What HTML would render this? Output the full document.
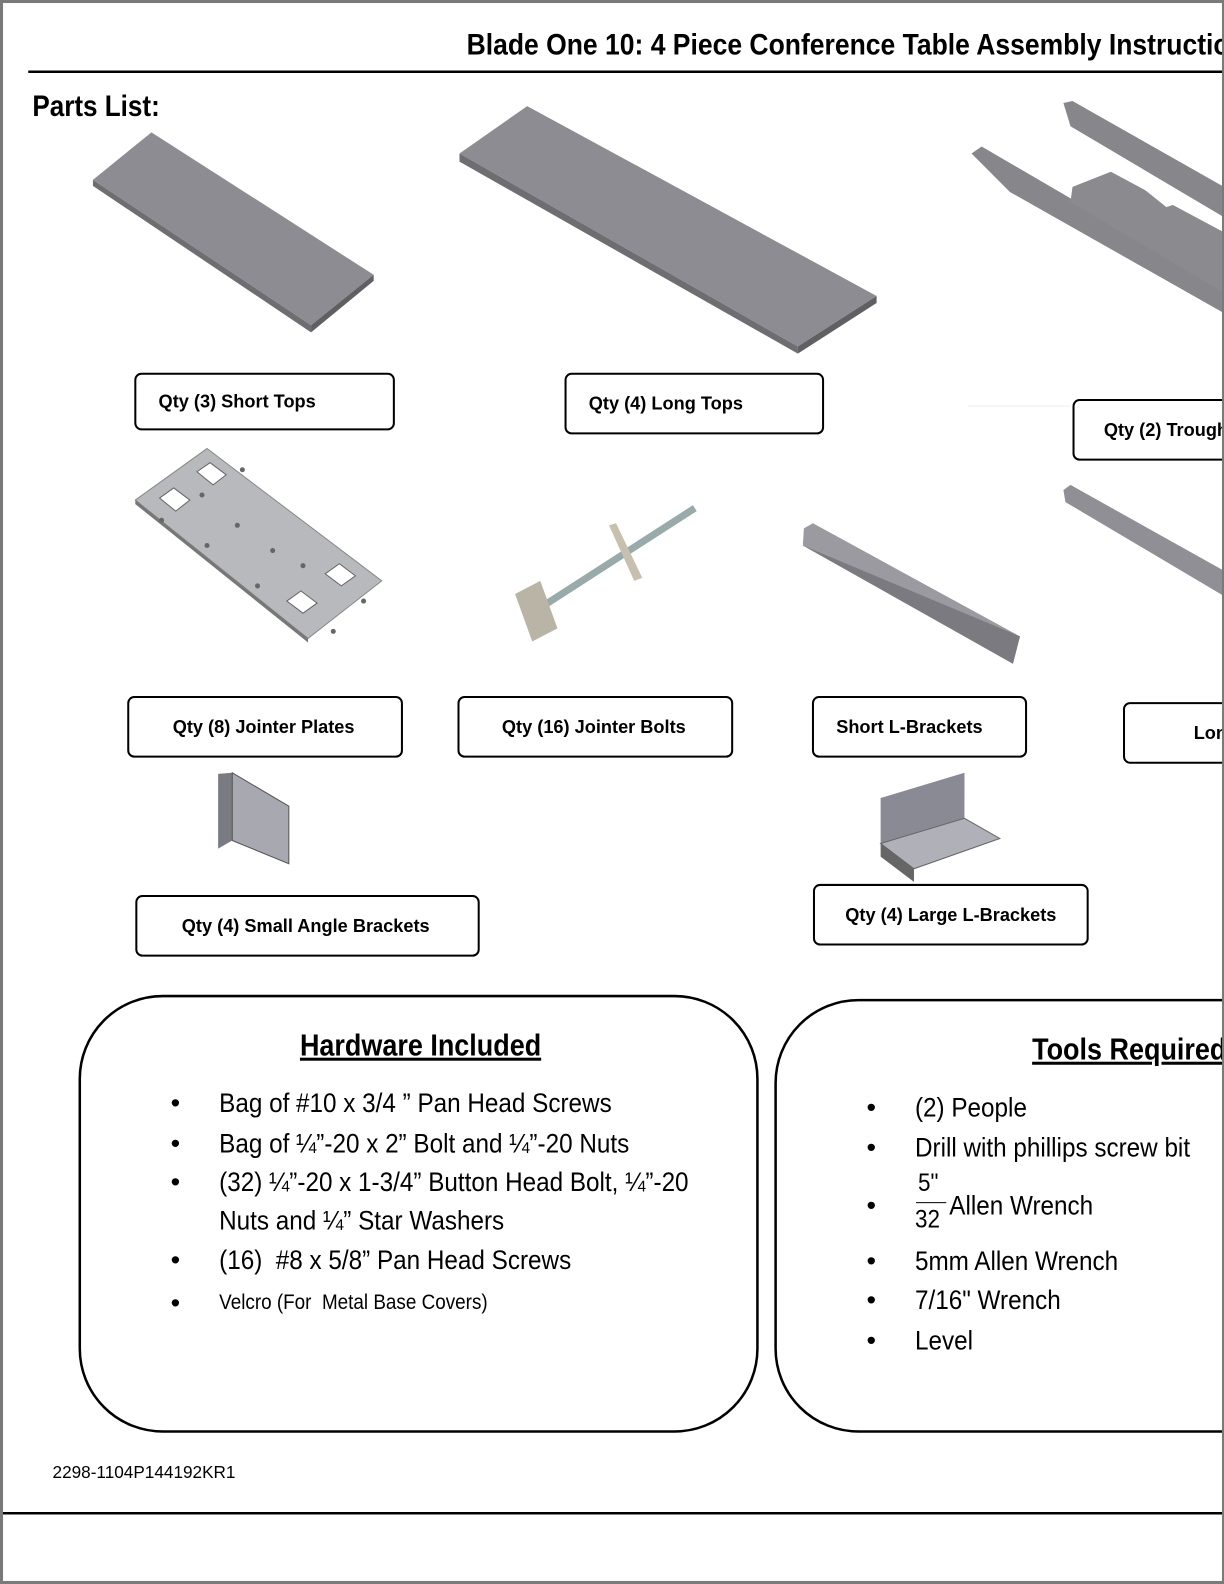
<!DOCTYPE html>
<html><head><meta charset="utf-8"><style>
html,body{margin:0;padding:0;background:#7a7a7a;}
#wrap{position:relative;width:1224px;height:1584px;overflow:hidden;background:#7a7a7a;}
#pg{position:absolute;left:0;top:0;width:1212px;height:1568px;transform:scale(1.0099,1.0102);transform-origin:0 0;}
#page{position:absolute;left:3px;top:3px;width:1207px;height:1562px;background:#fff;overflow:hidden;}
.t{position:absolute;white-space:nowrap;font-family:"Liberation Sans",sans-serif;}
.box{position:absolute;border:2px solid #000;border-radius:7px;box-sizing:border-box;font-family:"Liberation Sans",sans-serif;font-weight:bold;font-size:18px;white-space:nowrap;}
.box span{position:absolute;top:50%;transform:translateY(-50%);}
.n{transform-origin:0 0;transform:scaleX(0.89);}
</style></head><body><div id="wrap"><div id="pg"><div id="page">
<svg width="1207" height="1562" style="position:absolute;left:0;top:0" viewBox="3 3 1207 1562">
<line x1="28" y1="71" x2="1212" y2="71" stroke="#000" stroke-width="2.5"/>
<line x1="0" y1="1498" x2="1212" y2="1498" stroke="#000" stroke-width="2.5"/>
<polygon points="92,178 150,131 370,272 308,322" fill="#8c8c92"/>
<polygon points="92,178 308,322 308,329 92,184" fill="#6d6d72"/>
<polygon points="308,322 370,272 370,278 308,329" fill="#5f5f64"/>
<polygon points="455,152 522,105 868,293 790,343" fill="#8c8c92"/>
<polygon points="455,152 790,343 790,350 455,160" fill="#6d6d72"/>
<polygon points="790,343 868,293 868,300 790,350" fill="#5f5f64"/>
<polygon points="962,152 972,145 1212,285 1212,310 1000,190" fill="#86868b"/>
<polygon points="1053,102 1062,100 1212,185 1212,215 1060,125" fill="#86868b"/>
<polygon points="1062,185 1100,170 1212,230 1212,290 1060,200" fill="#8a8a8f"/>
<polygon points="1130,185 1150,180 1170,200 1155,205" fill="#fff"/>
<line x1="958" y1="402" x2="1060" y2="402" stroke="#eee"/>
<polygon points="134,495 205,444 378,575 305,632" fill="#b7b9bc" stroke="#888"/>
<polygon points="134,495 305,632 305,636 134,499" fill="#777"/>
<g fill="#fff" stroke="#666"><polygon points="158,493 172,483 188,495 174,506"/><polygon points="195,467 208,458 224,470 211,480"/><polygon points="322,568 336,558 352,570 338,580"/><polygon points="284,595 298,585 314,597 300,607"/></g>
<g fill="#666"><circle cx="160" cy="515" r="2.5"/><circle cx="200" cy="490" r="2.5"/><circle cx="235" cy="520" r="2.5"/><circle cx="270" cy="545" r="2.5"/><circle cx="240" cy="465" r="2.5"/><circle cx="300" cy="560" r="2.5"/><circle cx="255" cy="580" r="2.5"/><circle cx="330" cy="625" r="2.5"/><circle cx="360" cy="595" r="2.5"/><circle cx="205" cy="540" r="2.5"/></g>
<line x1="522" y1="610" x2="688" y2="503" stroke="#9aa" stroke-width="7"/>
<polygon points="603,520 610,518 636,572 628,575" fill="#c8c0ae"/>
<polygon points="510,588 535,575 552,622 527,635" fill="#b9b4a5"/>
<polygon points="796,523 805,518 1010,630 1003,657 795,540" fill="#9a9aa0"/>
<polygon points="795,540 1003,657 1010,630" fill="#7a7a80"/>
<polygon points="1053,485 1060,480 1212,565 1212,590 1055,497" fill="#8f8f95"/>
<polygon points="216,766 230,765 230,832 216,840" fill="#7a7a82"/>
<polygon points="230,765 286,798 286,855 230,832" fill="#a8a8b0" stroke="#555"/>
<polygon points="872,790 955,765 955,810 872,835" fill="#8a8a94"/>
<polygon points="872,835 955,810 990,830 905,860" fill="#b0b0b8" stroke="#666"/>
<polygon points="872,835 905,860 905,873 872,848" fill="#666"/>
<rect x="79" y="986" width="671" height="431" rx="82" fill="none" stroke="#000" stroke-width="2.5"/>
<rect x="768" y="990" width="600" height="427" rx="82" fill="none" stroke="#000" stroke-width="2.5"/>
</svg>
<div class="t" style="left:459px;top:26px;font-size:29px;font-weight:bold;transform-origin:0 0;transform:scaleX(0.905)">Blade One 10: 4 Piece Conference Table Assembly Instructions</div>
<div class="t n" style="left:29px;top:87px;font-size:29px;font-weight:bold;">Parts List:</div>
<div class="box" style="left:130px;top:366px;width:258px;height:57px"><span style="left:22px">Qty (3) Short Tops</span></div>
<div class="box" style="left:556px;top:366px;width:257px;height:61px"><span style="left:22px">Qty (4) Long Tops</span></div>
<div class="box" style="left:1059px;top:392px;width:200px;height:61px"><span style="left:29px">Qty (2) Troughs</span></div>
<div class="box" style="left:123px;top:686px;width:273px;height:61px"><span style="left:43px">Qty (8) Jointer Plates</span></div>
<div class="box" style="left:450px;top:686px;width:273px;height:61px"><span style="left:42px">Qty (16) Jointer Bolts</span></div>
<div class="box" style="left:801px;top:686px;width:213px;height:61px"><span style="left:22px">Short L-Brackets</span></div>
<div class="box" style="left:1109px;top:692px;width:200px;height:61px"><span style="left:68px">Long L-Brackets</span></div>
<div class="box" style="left:131px;top:883px;width:341px;height:61px"><span style="left:44px">Qty (4) Small Angle Brackets</span></div>
<div class="box" style="left:802px;top:872px;width:273px;height:61px"><span style="left:30px">Qty (4) Large L-Brackets</span></div>
<div class="t n" style="left:294px;top:1016px;font-size:30px;font-weight:bold;text-decoration:underline;">Hardware Included</div>
<div class="t n" style="left:1019px;top:1020px;font-size:30px;font-weight:bold;text-decoration:underline;">Tools Required</div>
<div style="position:absolute;left:0;top:0;font-family:'Liberation Sans',sans-serif;font-size:27px;">
<div class="t" style="left:166px;top:1074px">•</div><div class="t n" style="left:214px;top:1074px">Bag of #10 x 3/4 ” Pan Head Screws</div>
<div class="t" style="left:166px;top:1114px">•</div><div class="t n" style="left:214px;top:1114px">Bag of ¼”-20 x 2” Bolt and ¼”-20 Nuts</div>
<div class="t" style="left:166px;top:1152px">•</div><div class="t n" style="left:214px;top:1152px">(32) ¼”-20 x 1-3/4” Button Head Bolt, ¼”-20</div>
<div class="t n" style="left:214px;top:1190px">Nuts and ¼” Star Washers</div>
<div class="t" style="left:166px;top:1229px">•</div><div class="t n" style="left:214px;top:1229px">(16)&nbsp; #8 x 5/8” Pan Head Screws</div>
<div class="t" style="left:166px;top:1272px">•</div><div class="t n" style="left:214px;top:1275px;font-size:21px">Velcro (For&nbsp; Metal Base Covers)</div>
<div class="t" style="left:855px;top:1078px">•</div><div class="t n" style="left:903px;top:1078px">(2) People</div>
<div class="t" style="left:855px;top:1118px">•</div><div class="t n" style="left:903px;top:1118px">Drill with phillips screw bit</div>
<div class="t" style="left:855px;top:1175px">•</div>
<div class="t n" style="left:906px;top:1154px;font-size:25px">5"</div>
<div style="position:absolute;left:904px;top:1187px;width:30px;border-top:1.5px solid #000"></div>
<div class="t n" style="left:903px;top:1190px;font-size:25px">32</div>
<div class="t n" style="left:937px;top:1175px">Allen Wrench</div>
<div class="t" style="left:855px;top:1230px">•</div><div class="t n" style="left:903px;top:1230px">5mm Allen Wrench</div>
<div class="t" style="left:855px;top:1269px">•</div><div class="t n" style="left:903px;top:1269px">7/16" Wrench</div>
<div class="t" style="left:855px;top:1309px">•</div><div class="t n" style="left:903px;top:1309px">Level</div>
</div>
<div class="t" style="left:49px;top:1445px;font-size:17px;">2298-1104P144192KR1</div>
</div></div></div></body></html>
